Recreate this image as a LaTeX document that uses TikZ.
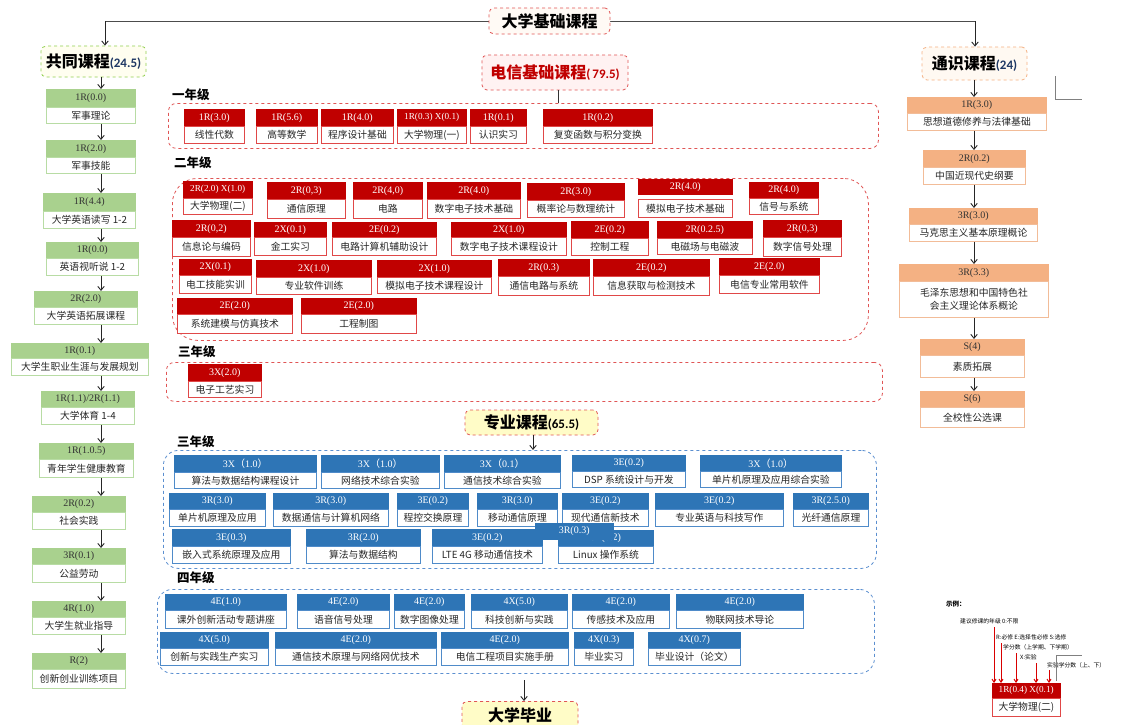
\documentclass[tikz,border=0pt]{standalone}
\usepackage{fontspec}
\setmainfont{Liberation Serif}
\newfontfamily\cjk{Noto Sans CJK SC}
\newfontfamily\carl{Carlito}
\usetikzlibrary{arrows.meta}
\definecolor{hred}{HTML}{C00000}
\definecolor{bred}{HTML}{E04848}
\definecolor{hgrn}{HTML}{A9D18E}
\definecolor{bgrn}{HTML}{B8DCA4}
\definecolor{horg}{HTML}{F4B183}
\definecolor{borg}{HTML}{F2BC98}
\definecolor{hblu}{HTML}{2E75B6}
\definecolor{bblu}{HTML}{4F8BC9}
\definecolor{dred}{HTML}{E05555}
\definecolor{dblu}{HTML}{5B8FD0}
\definecolor{dgrn}{HTML}{92D050}
\definecolor{navy}{HTML}{1F3864}
\newcommand\myl{{\cjk （}}
\newcommand\myr{{\cjk ）}}
\newcommand\sm[1]{{\fontsize{9.2}{9.5}\selectfont #1}}
\newcommand\crs[9]{%
  \node[#7h, anchor=north west, minimum width={(#3-#2)*1pt}, minimum height={(#5-#4)*1pt}] (#1h) at (#2,#4) {#8};
  \node[#7b, anchor=north west, minimum width={(#3-#2)*1pt}, minimum height={(#6-#5)*1pt}] (#1b) at (#2,#5) {#9};
}
\tikzset{
  codef/.style={font=\fontsize{10}{10}\selectfont, inner sep=0pt},
  namef/.style={font=\cjk\fontsize{9.8}{10.5}\selectfont, inner sep=0pt, align=center, text=black!85},
  redh/.style={codef, fill=hred, draw=hred, text=white},
  redb/.style={namef, fill=white, draw=bred, line width=0.8pt},
  grnh/.style={codef, fill=hgrn, draw=hgrn, text=black!80},
  grnb/.style={namef, fill=white, draw=bgrn, line width=0.8pt},
  orgh/.style={codef, fill=horg, draw=horg, text=black!80},
  orgb/.style={namef, fill=white, draw=borg, line width=0.8pt},
  bluh/.style={codef, fill=hblu, draw=hblu, text=white},
  blub/.style={namef, fill=white, draw=bblu, line width=0.8pt},
  arr/.style={-{Straight Barb[length=4pt,width=6.5pt]}, line width=0.9pt, black!85},
  secred/.style={draw=dred, dashed, line width=0.8pt, inner sep=0pt, anchor=north west},
  secblu/.style={draw=dblu, dashed, line width=0.8pt, inner sep=0pt, anchor=north west},
  titlebox/.style={dashed, line width=0.8pt, rounded corners=5pt, inner sep=0pt},
  bigcjk/.style={font=\cjk\bfseries\fontsize{16}{18}\selectfont},
  yearlab/.style={font=\cjk\bfseries\fontsize{12.5}{13}\selectfont, anchor=west, inner sep=0pt},
  legt/.style={font=\cjk\fontsize{5.8}{6}\selectfont, anchor=west, inner sep=0pt},
  legarr/.style={-{Straight Barb[length=3pt,width=4pt]}, line width=1pt, red!85!black},
}
\begin{document}
\begin{tikzpicture}[x=1pt,y=-1pt]
\useasboundingbox[fill=white] (0,0) rectangle (1126,724);
% top connector line
\coordinate (tl) at (105,21);
\coordinate (tr) at (975,21);
\draw[line width=1pt, black!70] (tl) -- (tr);
% title boxes
\node[titlebox, bigcjk, draw=dred, fill=orange!4, minimum width=121pt, minimum height=26pt] (top) at (549.5,21) {大学基础课程};
\node[titlebox, draw=dgrn, fill=yellow!6, minimum width=105pt, minimum height=31pt] (gong) at (93.5,61.5) {{\cjk\bfseries\fontsize{16}{18}\selectfont 共同课程}{\carl\bfseries\fontsize{13}{14}\selectfont\color{navy}(24.5)}};
\node[titlebox, draw=horg, fill=orange!5, minimum width=105pt, minimum height=33pt] (tong) at (974.5,63.5) {{\cjk\bfseries\fontsize{16}{18}\selectfont 通识课程}{\carl\bfseries\fontsize{13}{14}\selectfont\color{navy}(24)}};
\node[titlebox, draw=dred, fill=red!5, minimum width=146pt, minimum height=35pt, text=hred] (dx) at (555,72.5) {{\cjk\bfseries\fontsize{16}{18}\selectfont 电信基础课程}{\carl\bfseries\fontsize{13}{14}\selectfont (\,79.5)}};
\node[titlebox, draw=dred, fill=yellow!22, minimum width=133pt, minimum height=25pt] (zy) at (531.5,422.5) {{\cjk\bfseries\fontsize{16}{18}\selectfont 专业课程}{\carl\bfseries\fontsize{13}{14}\selectfont(65.5)}};
\node[titlebox, bigcjk, draw=dred, fill=yellow!22, minimum width=116pt, minimum height=30pt, anchor=north] (grad) at (520,701) {\raisebox{4pt}{大学毕业}};
% top arrows
\draw[arr] (tl) -- (gong.north -| tl);
\draw[arr] (tr) -- (tong.north -| tr);
\draw[gray, line width=0.8pt] (1055,76) -- (1055,99) -- (1082,99);
% year labels
\node[yearlab] (l1) at (172,95) {一年级};
\node[yearlab] (l2) at (174,163) {二年级};
\node[yearlab] (l3) at (178,352) {三年级};
\node[yearlab] (l4) at (177,442) {三年级};
\node[yearlab] (l5) at (177,578) {四年级};
% section boxes
\node[secred, rounded corners=8pt, minimum width=710pt, minimum height=45pt] (y1) at (168,103) {};
\node[secred, rounded corners=25pt, minimum width=696pt, minimum height=162pt] (y2) at (172,178) {};
\node[secred, rounded corners=8pt, minimum width=716pt, minimum height=39pt] (y3) at (166,362) {};
\node[secblu, rounded corners=15pt, minimum width=713pt, minimum height=118pt] (p3) at (163,450) {};
\node[secblu, rounded corners=15pt, minimum width=717pt, minimum height=84pt] (p4) at (157,589) {};
\coordinate (dxl) at (558,0);
\draw[line width=0.9pt, black!80] (dx.south -| dxl) -- (y1.north -| dxl);
\coordinate (zyl) at (533,0);
\draw[arr] (zy.south -| zyl) -- (p3.north -| zyl);
\coordinate (ga) at (524,680);
\draw[arr] (ga) -- (grad.north -| ga);
% first year
\crs{a1}{184}{244}{109}{126}{143}{red}{1R(3.0)}{线性代数}
\crs{a2}{256}{317}{109}{126}{143}{red}{1R(5.6)}{高等数学}
\crs{a3}{321}{393}{109}{126}{143}{red}{1R(4.0)}{程序设计基础}
\crs{a4}{397}{466}{109}{126}{143}{red}{\sm{1R(0.3) X(0.1)}}{大学物理(一)}
\crs{a5}{470}{526}{109}{126}{143}{red}{1R(0.1)}{认识实习}
\crs{a6}{543}{652}{109}{126}{143}{red}{1R(0.2)}{复变函数与积分变换}
% second year
\crs{b1}{183}{252}{181}{198}{214}{red}{\sm{2R(2.0) X(1.0)}}{大学物理(二)}
\crs{b2}{267}{345}{182}{199}{218}{red}{2R(0,3)}{通信原理}
\crs{b3}{353}{422}{182}{199}{218}{red}{2R(4,0)}{电路}
\crs{b4}{427}{520}{182}{199}{218}{red}{2R(4.0)}{数字电子技术基础}
\crs{b5}{527}{624}{183}{200}{217}{red}{2R(3.0)}{概率论与数理统计}
\node[redh, anchor=north west, minimum width=94pt, minimum height=15pt] (b6h) at (638,179) {2R(4.0)};
\node[redb, anchor=north west, minimum width=94pt, minimum height=18pt] (b6b) at (638,199) {模拟电子技术基础};
\crs{b7}{749}{818}{182}{198}{214}{red}{2R(4.0)}{信号与系统}
\crs{b8}{172}{250}{220}{237}{256}{red}{2R(0,2)}{信息论与编码}
\crs{b9}{254}{326}{222}{237}{255}{red}{2X(0.1)}{金工实习}
\crs{b10}{332}{436}{222}{237}{255}{red}{2E(0.2)}{电路计算机辅助设计}
\crs{b11}{451}{566}{222}{237}{255}{red}{2X(1.0)}{数字电子技术课程设计}
\crs{b12}{571}{648}{221}{238}{255}{red}{2E(0.2)}{控制工程}
\crs{b13}{657}{752}{221}{238}{254}{red}{2R(0.2.5)}{电磁场与电磁波}
\crs{b14}{763}{841}{220}{237}{256}{red}{2R(0,3)}{数字信号处理}
\crs{b15}{179}{251}{259}{275}{293}{red}{2X(0.1)}{电工技能实训}
\crs{b16}{256}{371}{260}{277}{294}{red}{2X(1.0)}{专业软件训练}
\crs{b17}{377}{491}{260}{277}{293}{red}{2X(1.0)}{模拟电子技术课程设计}
\crs{b18}{498}{589}{259}{276}{295}{red}{2R(0.3)}{通信电路与系统}
\crs{b19}{593}{709}{259}{276}{295}{red}{2E(0.2)}{信息获取与检测技术}
\crs{b20}{719}{819}{258}{275}{293}{red}{2E(2.0)}{电信专业常用软件}
\crs{b21}{177}{292}{298}{314}{333}{red}{2E(2.0)}{系统建模与仿真技术}
\crs{b22}{301}{416}{298}{314}{333}{red}{2E(2.0)}{工程制图}
% third year (telecom basics)
\crs{c1}{188}{261}{364}{381}{397}{red}{3X(2.0)}{电子工艺实习}
% third year (professional)
\crs{d1}{174}{316}{455}{472}{488}{blu}{3X\myl 1.0\myr}{算法与数据结构课程设计}
\crs{d2}{321}{439}{455}{472}{488}{blu}{3X\myl 1.0\myr}{网络技术综合实验}
\crs{d3}{444}{560}{455}{472}{488}{blu}{3X\myl 0.1\myr}{通信技术综合实验}
\crs{d4}{572}{685}{455}{471}{487}{blu}{3E(0.2)}{DSP 系统设计与开发}
\crs{d5}{700}{841}{455}{471}{487}{blu}{3X\myl 1.0\myr}{单片机原理及应用综合实验}
\crs{d6}{169}{265}{493}{509}{526}{blu}{3R(3.0)}{单片机原理及应用}
\crs{d7}{273}{388}{493}{509}{526}{blu}{3R(3.0)}{数据通信与计算机网络}
\crs{d8}{397}{468}{493}{509}{526}{blu}{3E(0.2)}{程控交换原理}
\crs{d9}{477}{557}{493}{509}{526}{blu}{3R(3.0)}{移动通信原理}
\crs{d10}{562}{648}{493}{509}{526}{blu}{3E(0.2)}{现代通信新技术}
\crs{d11}{655}{783}{493}{509}{526}{blu}{3E(0.2)}{专业英语与科技写作}
\crs{d12}{793}{868}{493}{509}{526}{blu}{3R(2.5.0)}{光纤通信原理}
\crs{d13}{172}{290}{529}{546}{563}{blu}{3E(0.3)}{嵌入式系统原理及应用}
\crs{d14}{306}{420}{529}{546}{563}{blu}{3R(2.0)}{算法与数据结构}
\crs{d15}{432}{542}{529}{546}{563}{blu}{3E(0.2)}{LTE 4G 移动通信技术}
\crs{d16}{558}{653}{530}{546}{563}{blu}{\raisebox{-4pt}{3E(0.2)}}{Linux 操作系统}
\node[bluh, anchor=north west, minimum width=78pt, minimum height=16pt] (d17) at (535,523) {3R(0.3)};
% fourth year
\crs{e1}{165}{286}{594}{610}{628}{blu}{4E(1.0)}{课外创新活动专题讲座}
\crs{e2}{297}{389}{594}{610}{628}{blu}{4E(2.0)}{语音信号处理}
\crs{e3}{394}{464}{594}{610}{628}{blu}{4E(2.0)}{数字图像处理}
\crs{e4}{471}{567}{594}{610}{628}{blu}{4X(5.0)}{科技创新与实践}
\crs{e5}{572}{669}{594}{610}{628}{blu}{4E(2.0)}{传感技术及应用}
\crs{e6}{676}{803}{594}{610}{628}{blu}{4E(2.0)}{物联网技术导论}
\crs{e7}{160}{268}{632}{648}{665}{blu}{4X(5.0)}{创新与实践生产实习}
\crs{e8}{275}{436}{632}{648}{665}{blu}{4E(2.0)}{通信技术原理与网络网优技术}
\crs{e9}{441}{568}{632}{648}{665}{blu}{4E(2.0)}{电信工程项目实施手册}
\crs{e10}{574}{633}{632}{648}{665}{blu}{4X(0.3)}{毕业实习}
\crs{e11}{648}{740}{632}{648}{665}{blu}{4X(0.7)}{毕业设计（论文）}
% left column
\crs{g1}{46}{135}{89}{107}{123}{grn}{1R(0.0)}{军事理论}
\crs{g2}{46}{135}{140}{157}{173}{grn}{1R(2.0)}{军事技能}
\crs{g3}{43}{135}{193}{211}{228}{grn}{1R(4.4)}{大学英语读写 1-2}
\crs{g4}{46}{138}{242}{258}{275}{grn}{1R(0.0)}{英语视听说 1-2}
\crs{g5}{34}{137}{291}{307}{324}{grn}{2R(2.0)}{大学英语拓展课程}
\crs{g6}{11}{148}{343}{358}{375}{grn}{1R(0.1)}{大学生职业生涯与发展规划}
\crs{g7}{41}{134}{391}{407}{424}{grn}{1R(1.1)/2R(1.1)}{大学体育 1-4}
\crs{g8}{39}{133}{443}{459}{477}{grn}{1R(1.0.5)}{青年学生健康教育}
\crs{g9}{32}{125}{496}{512}{529}{grn}{2R(0.2)}{社会实践}
\crs{g10}{32}{125}{548}{564}{582}{grn}{3R(0.1)}{公益劳动}
\crs{g11}{32}{125}{601}{617}{634}{grn}{4R(1.0)}{大学生就业指导}
\crs{g12}{32}{125}{653}{669}{688}{grn}{R(2)}{创新创业训练项目}
\coordinate (gx) at (101,0);
\draw[arr] (gong.south -| gx) -- (g1h.north -| gx);
\foreach \i/\j in {1/2,2/3,3/4,4/5,5/6,6/7,7/8,8/9,9/10,10/11,11/12}
  \draw[arr] (g\i b.south -| gx) -- (g\j h.north -| gx);
% right column
\crs{o1}{907}{1046}{97}{113}{130}{org}{1R(3.0)}{思想道德修养与法律基础}
\crs{o2}{923}{1025}{150}{167}{184}{org}{2R(0.2)}{中国近现代史纲要}
\crs{o3}{909}{1037}{208}{224}{241}{org}{3R(3.0)}{马克思主义基本原理概论}
\crs{o4}{899}{1048}{264}{281}{317}{org}{3R(3.3)}{毛泽东思想和中国特色社\\[3pt]会主义理论体系概论}
\crs{o5}{920}{1024}{339}{355}{377}{org}{S(4)}{素质拓展}
\crs{o6}{920}{1024}{391}{407}{427}{org}{S(6)}{全校性公选课}
\coordinate (ox) at (974,0);
\draw[arr] (tong.south -| ox) -- (o1h.north -| ox);
\foreach \i/\j in {1/2,2/3,3/4,4/5,5/6}
  \draw[arr] (o\i b.south -| ox) -- (o\j h.north -| ox);
% legend
\node[legt, font=\cjk\bfseries\fontsize{6.5}{7}\selectfont] (lg0) at (946,604) {示例：};
\node[legt] (lg1) at (960,621) {建议修课的年级 0:不限};
\node[legt] (lg2) at (996,637) {R:必修 E:选择性必修 S:选修};
\node[legt] (lg3) at (1003,647) {学分数（上学期、下学期）};
\node[legt] (lg4) at (1020,657) {X:实验};
\node[legt] (lg5) at (1047,665) {实验学分数（上、下）};
\crs{lg}{992}{1060}{683}{698}{716}{red}{\sm{1R(0.4) X(0.1)}}{大学物理(二)}
\draw[gray, line width=0.7pt] (1056,681) -- (1056,655) -- (1082,655);
\coordinate (la1) at (994,627);
\coordinate (la2) at (1001,643);
\coordinate (la3) at (1016,653);
\coordinate (la4) at (1036,663);
\coordinate (la5) at (1049,670);
\foreach \k in {1,...,5}
  \draw[legarr] (la\k) -- (lgh.north -| la\k);
\end{tikzpicture}
\end{document}
